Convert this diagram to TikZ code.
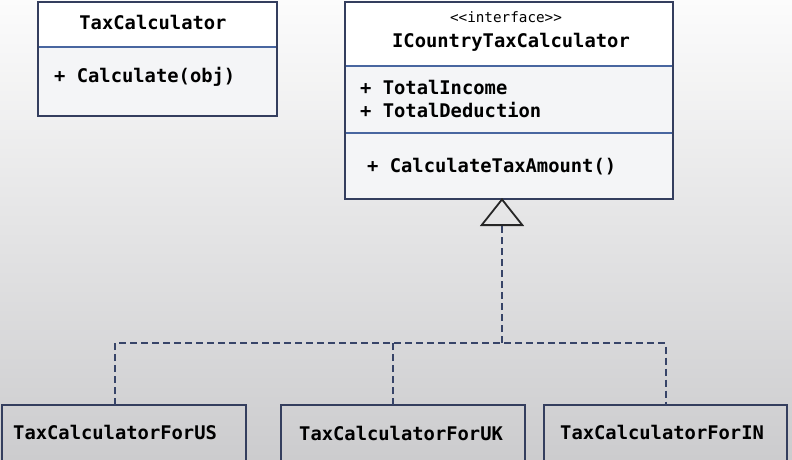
\documentclass[tikz,border=0pt]{standalone}
\usepackage{fontspec}
\setmonofont{DejaVu Sans Mono}
\usetikzlibrary{arrows.meta}
\definecolor{boxline}{RGB}{52,62,94}
\definecolor{partline}{RGB}{72,102,160}
\definecolor{dashline}{RGB}{55,68,104}
\definecolor{bgtop}{RGB}{252,252,252}
\definecolor{bgbottom}{RGB}{204,204,206}
\definecolor{bodyfill}{RGB}{244,245,247}
\newcommand{\umlfont}{\ttfamily\bfseries\fontsize{18.8}{23}\selectfont}
\newcommand{\stereofont}{\ttfamily\fontsize{14.3}{16}\selectfont}

\begin{document}
\begin{tikzpicture}[x=1pt,y=-1pt,
  part/.style={draw=partline, line width=1.6pt, inner sep=0pt, outer sep=0pt, anchor=north west},
  umlframe/.style={draw=boxline, line width=1.8pt},
  leafbox/.style={umlframe, inner sep=0pt, outer sep=0pt, anchor=north west, minimum height=56pt},
  uml/.style={font=\umlfont, inner sep=0pt, text=black},
  realize/.style={draw=dashline, line width=2pt, dash pattern=on 7pt off 4pt}]
\useasboundingbox (0,0) rectangle (792,459);
\clip (0,0) rectangle (792,459);
\fill[top color=bgtop, bottom color=bgbottom] (0,0) rectangle (792,459);

\node[part, fill=white, minimum width=239pt, minimum height=45pt] (taxhead) at (38,2) {};
\node[part, fill=bodyfill, minimum width=239pt, minimum height=69pt] (taxbody) at (taxhead.south west) {};
\draw[umlframe] (taxhead.north west) rectangle (taxbody.south east);
\node[uml] (taxname) at (153,22) {TaxCalculator};
\node[uml, anchor=west] (calcop) at (54,77) {+ Calculate(obj)};

\node[part, fill=white, minimum width=328pt, minimum height=64pt] (ifacehead) at (345,2) {};
\node[part, fill=bodyfill, minimum width=328pt, minimum height=67pt] (ifaceattr) at (ifacehead.south west) {};
\node[part, fill=bodyfill, minimum width=328pt, minimum height=66pt] (ifaceops) at (ifaceattr.south west) {};
\draw[umlframe] (ifacehead.north west) rectangle (ifaceops.south east);
\node[font=\stereofont, inner sep=0pt] (stereo) at (506,17) {<{}<interface>{}>};
\node[uml] (ifacename) at (511,42) {ICountryTaxCalculator};
\node[uml, anchor=west, align=left] (attrs) at (360,98.5) {+ TotalIncome\\+ TotalDeduction};
\node[uml, anchor=west] (taxop) at (367,167) {+ CalculateTaxAmount()};

\node[leafbox, minimum width=244pt] (forus) at (2,405) {};
\node[leafbox, minimum width=244pt] (foruk) at (281,405) {};
\node[leafbox, minimum width=243pt] (forin) at (544,405) {};
\node[uml, anchor=west] (usname) at (13,432) {TaxCalculatorForUS};
\node[uml, anchor=west] (ukname) at (299,433) {TaxCalculatorForUK};
\node[uml, anchor=west] (inname) at (560,432) {TaxCalculatorForIN};

\coordinate (junc) at (502,343);
\draw[realize, -{Triangle[open, length=28pt, width=44pt, line width=1.8pt, color=black!85]}]
  (junc) -- ([yshift=1pt]junc |- ifaceops.south);
\draw[realize] ([xshift=-9pt]forus.north) |- (junc) -| (forin.north);
\draw[realize] ([xshift=-10pt]foruk.north) -- ([xshift=-10pt]foruk.north |- junc);
\end{tikzpicture}
\end{document}
